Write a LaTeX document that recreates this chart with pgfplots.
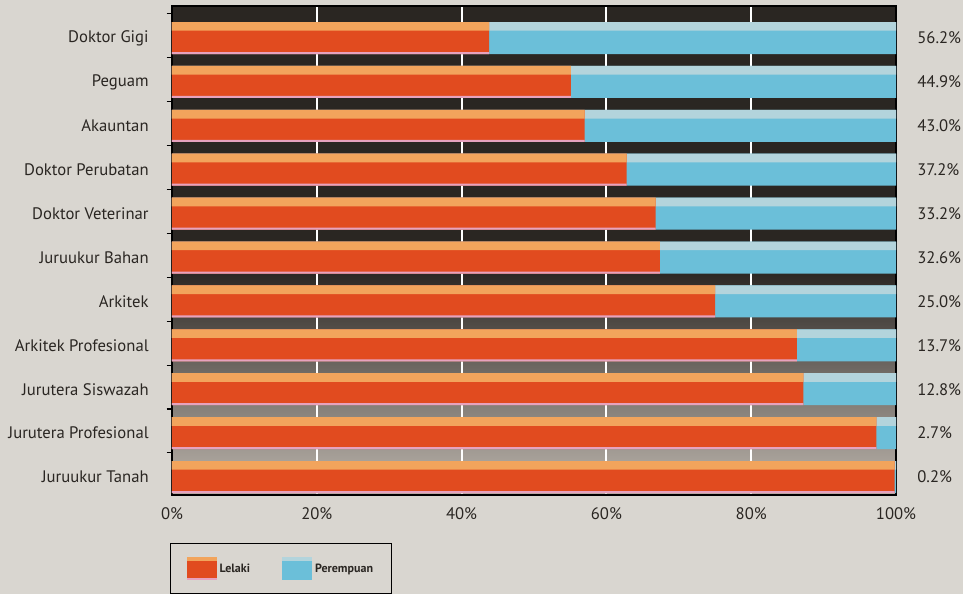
\documentclass[border=0pt]{standalone}
\usepackage{fontspec}
\setmainfont{PT Sans}
\usepackage{pgfplots}
\usepackage{pgfplotstable}
\pgfplotsset{compat=1.18}
\usetikzlibrary{backgrounds}

\definecolor{paper}{HTML}{D9D6D0}
\definecolor{barred}{HTML}{E14B1F}
\definecolor{barlight}{HTML}{F2A45C}
\definecolor{barpink}{HTML}{E7A2BE}
\definecolor{barblue}{HTML}{6BBFD9}
\definecolor{bluelight}{HTML}{B3D4DC}
\definecolor{bgdark}{HTML}{2A2622}
\definecolor{bgmid}{HTML}{6E6862}
\definecolor{bglight}{HTML}{BDB6AE}
\definecolor{txt}{HTML}{2A2622}

% 25bp = bottom of the axis box, 75bp = top
\pgfdeclareverticalshading{bgsh}{100bp}{color(0bp)=(bglight); color(25bp)=(bglight);
  color(38bp)=(bgmid); color(48bp)=(bgdark); color(100bp)=(bgdark)}

% y: 10 = Doktor Gigi ... 0 = Juruukur Tanah; l = Lelaki, p = Perempuan (%)
\pgfplotstableread{
y  l     p
10 43.8  56.2
9  55.1  44.9
8  57.0  43.0
7  62.8  37.2
6  66.8  33.2
5  67.4  32.6
4  75.0  25.0
3  86.3  13.7
2  87.2  12.8
1  97.3  2.7
0  99.8  0.2
}\datatable

\begin{document}
\begin{tikzpicture}
\begin{axis}[
  xbar,
  scale only axis,
  width=543pt, height=366.75pt,
  xmin=0, xmax=100,
  ymin=-0.41, ymax=10.73,
  axis background/.style={shade, shading=bgsh},
  xtick={0,20,40,60,80,100},
  xticklabels={0\%,20\%,40\%,60\%,80\%,100\%},
  xmajorgrids,
  grid style={white, line width=1.5pt},
  ytick={0,...,10},
  ytick pos=left,
  yticklabels={Juruukur Tanah, Jurutera Profesional, Jurutera Siswazah, Arkitek Profesional,
    Arkitek, Juruukur Bahan, Doktor Veterinar, Doktor Perubatan, Akauntan, Peguam, Doktor Gigi},
  minor ytick={0.55,1.55,2.55,3.55,4.55,5.55,6.55,7.55,8.55,9.55,10.55},
  major tick length=0pt,
  minor tick length=4pt,
  tick align=outside,
  minor tick style={black, line width=0.8pt},
  axis line style={black, line width=1pt},
  ticklabel style={font=\fontsize{12.5}{14}\selectfont, text=txt},
  yticklabel style={xshift=-14pt},
  xticklabel style={yshift=-6pt},
  /pgf/number format/assume math mode=true,
  legend style={at={(0,0)}, anchor=north west, xshift=-1.5pt, yshift=-36pt,
    draw=black, line width=0.8pt, fill=none, text=txt,
    font=\bfseries\fontsize{9}{10}\selectfont,
    inner xsep=12pt, inner ysep=10pt,
    /tikz/every even column/.append style={column sep=22pt}},
  legend columns=2,
]
\addlegendimage{legend image code/.code={
  \fill[barred] (0pt,-8pt) rectangle (22pt,8.5pt);
  \fill[barlight] (0pt,6pt) rectangle (22pt,8.5pt);
  \fill[barpink] (0pt,-8pt) rectangle (22pt,-7pt);}}
\addlegendentry{Lelaki}
\addlegendimage{legend image code/.code={
  \fill[barblue] (0pt,-8pt) rectangle (22pt,8.5pt);
  \fill[bluelight] (0pt,6pt) rectangle (22pt,8.5pt);}}
\addlegendentry{Perempuan}
% Perempuan: the part of each bar right of Lelaki (bar runs to l+p, red drawn on top)
\addplot[forget plot, draw=none, fill=barblue, bar width=24pt, bar shift=0pt,
  point meta=explicit,
  nodes near coords={\pgfmathprintnumber[fixed, fixed zerofill, precision=1]{\pgfplotspointmeta}\%},
  nodes near coords align=horizontal,
  every node near coord/.append style={anchor=west, xshift=12.5pt,
    font=\fontsize{12.5}{14}\selectfont, text=txt}]
  table[x expr=\thisrow{l}+\thisrow{p}, y=y, meta=p] {\datatable};
\addplot[forget plot, draw=none, fill=bluelight, bar width=6.5pt, bar shift=8.75pt]
  table[x expr=\thisrow{l}+\thisrow{p}, y=y] {\datatable};
% Lelaki
\addplot[forget plot, draw=none, fill=barred, bar width=24pt, bar shift=0pt]
  table[x=l, y=y] {\datatable};
\addplot[forget plot, draw=none, fill=barlight, bar width=6.5pt, bar shift=8.75pt]
  table[x=l, y=y] {\datatable};
\addplot[forget plot, draw=none, fill=barpink, bar width=1.5pt, bar shift=-11.25pt]
  table[x=l, y=y] {\datatable};
\coordinate (sw) at (rel axis cs:0,0);
\coordinate (ne) at (rel axis cs:1,1);
\end{axis}
\pgfresetboundingbox
\path[use as bounding box] ([xshift=-129pt, yshift=-74.25pt]sw) rectangle ([xshift=50.25pt, yshift=4.5pt]ne);
\begin{scope}[on background layer]
\fill[paper] ([xshift=-129pt, yshift=-74.25pt]sw) rectangle ([xshift=50.25pt, yshift=4.5pt]ne);
\end{scope}
\end{tikzpicture}
\end{document}
